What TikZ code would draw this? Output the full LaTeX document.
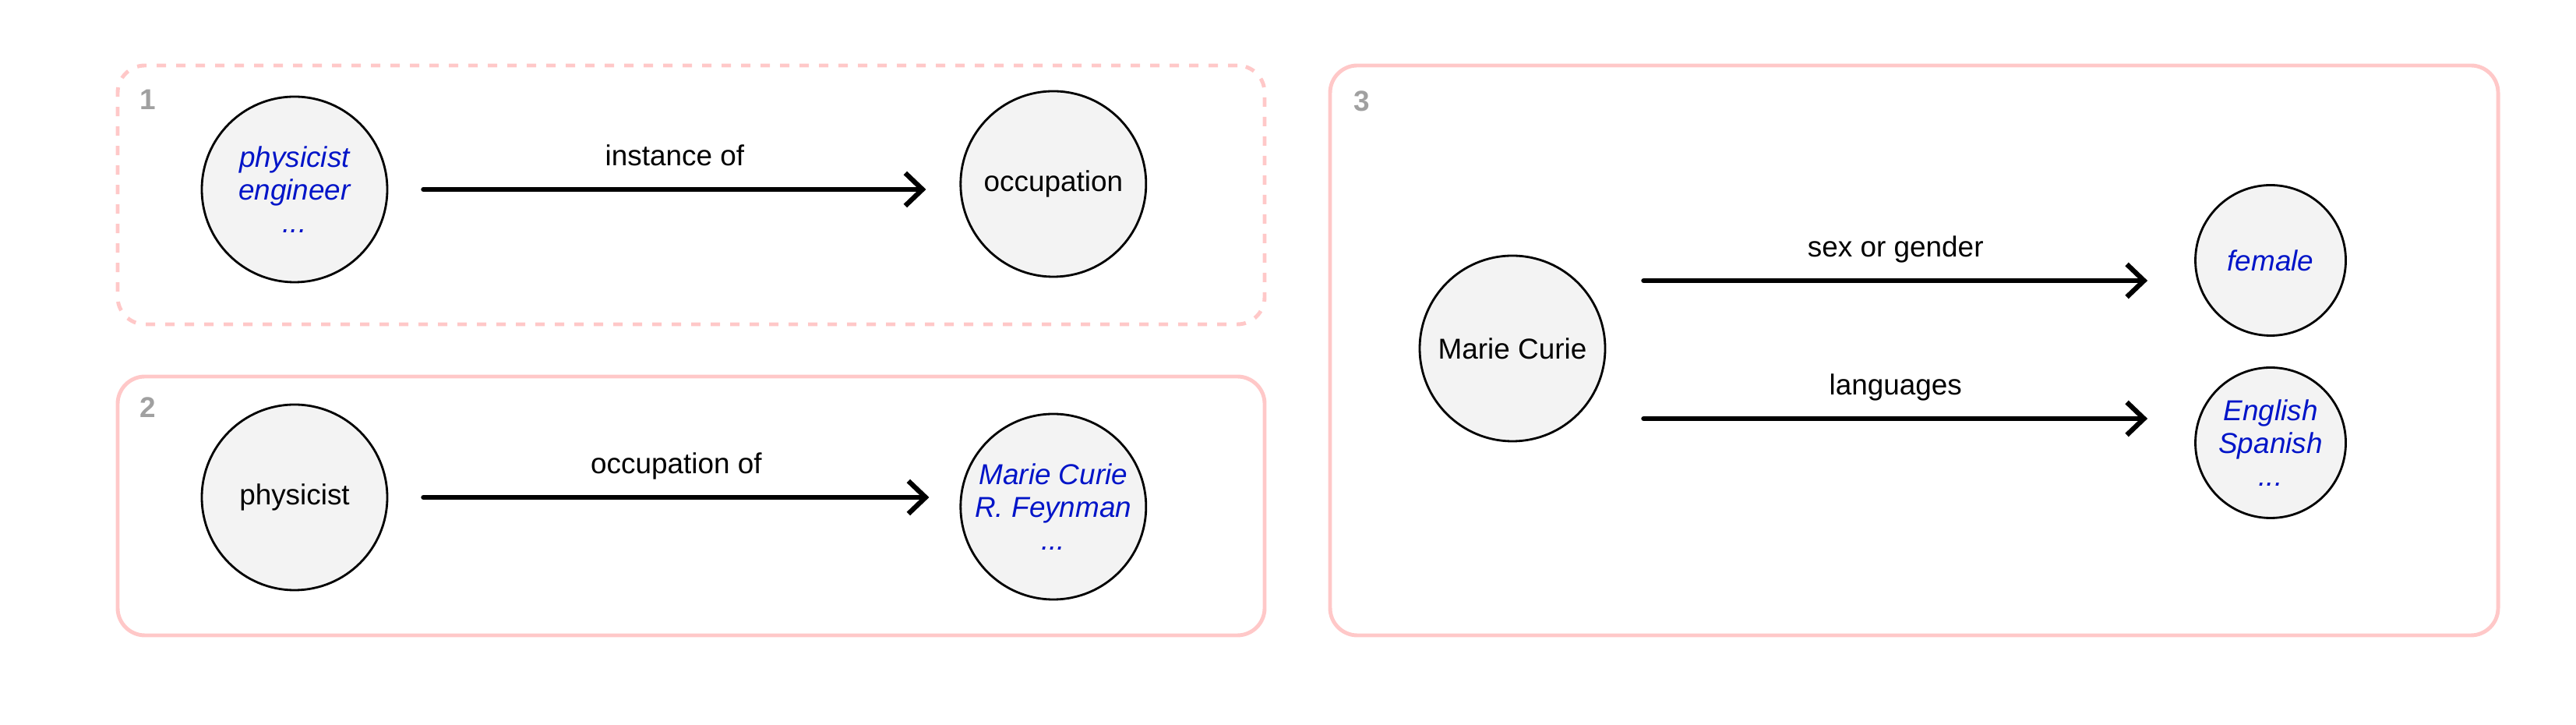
\documentclass[tikz,border=0pt]{standalone}
\usepackage{fontspec}
\setmainfont{Liberation Sans}
\usetikzlibrary{positioning, arrows.meta}
\definecolor{grppink}{RGB}{255,200,200}
\definecolor{numgray}{RGB}{160,160,160}
\definecolor{entfill}{RGB}{243,243,243}
\definecolor{valblue}{RGB}{0,20,200}
\tikzset{ent/.style={draw, circle, line width=0.8pt, fill=entfill, align=center, minimum size=2.38cm, inner sep=0pt, font=\fontsize{10.5}{12}\selectfont},val/.style={ent, text=valblue, font=\fontsize{10.5}{12}\selectfont\itshape},smallent/.style={minimum size=1.93cm},rel/.style={-{Straight Barb[length=2.2mm, width=4.2mm]}, line width=1.8pt, line cap=round},rel_t/.style={anchor=base, yshift=3mm, font=\fontsize{10.5}{12}\selectfont}}

\begin{document}
\begin{tikzpicture}[
   group/.style={draw=grppink, line width=1.4pt, rounded corners=3.5mm, minimum width=14.72cm, minimum height=3.32cm},
   num/.style={font=\fontsize{10.5}{12}\selectfont\bfseries, text=numgray}]
  \useasboundingbox (0,0) rectangle (33.06,9.30);

  % 1. instance of
  \node[group, dash pattern=on 0.12cm off 0.13cm] (g1) at (8.87,6.80) {};
  \node[num] (n1) at ([xshift=4.1mm,yshift=-4.6mm]g1.north west) {1};
  \node[val] (inst) at (3.78,6.87) {physicist\\ engineer\\ ...};
  \node[ent, right=7.33cm of inst, yshift=0.7mm] (occ) {occupation};
  \draw[rel] ([xshift=4.5mm]inst.east) -- ([xshift=-4.3mm]inst.east -| occ.west)
    node[rel_t, midway] (l1) {instance of};

  % 2. occupation of
  \node[group] (g2) at (8.87,2.81) {};
  \node[num] (n2) at ([xshift=4.1mm,yshift=-4.2mm]g2.north west) {2};
  \node[ent] (phys) at (3.78,2.92) {physicist};
  \node[val, right=7.33cm of phys, yshift=-1.2mm] (pers) {Marie Curie\\ R. Feynman\\ ...};
  \draw[rel] ([xshift=4.5mm]phys.east) -- ([xshift=-3.9mm]phys.east -| pers.west)
    node[rel_t, midway] (l2) {occupation of};

  % 3. Marie Curie
  \node[group, minimum width=14.99cm, minimum height=7.31cm] (g3) at (24.565,4.805) {};
  \node[num] (n3) at ([xshift=4.3mm,yshift=-4.8mm]g3.north west) {3};
  \node[ent] (mc) at (19.41,4.83) {Marie Curie};
  \node[val, smallent] (fem) at (29.14,5.96) {female};
  \node[val, smallent] (lang) at (29.14,3.62) {English\\ Spanish\\ ...};
  \coordinate (s1) at ([xshift=4.8mm,yshift=8.7mm]mc.east);
  \coordinate (s2) at ([xshift=4.8mm,yshift=-9.0mm]mc.east);
  \draw[rel] (s1) -- ([xshift=-6mm]s1 -| fem.west)
    node[rel_t, midway] (l3) {sex or gender};
  \draw[rel] (s2) -- ([xshift=-6mm]s2 -| lang.west)
    node[rel_t, midway] (l4) {languages};
\end{tikzpicture}
\end{document}
